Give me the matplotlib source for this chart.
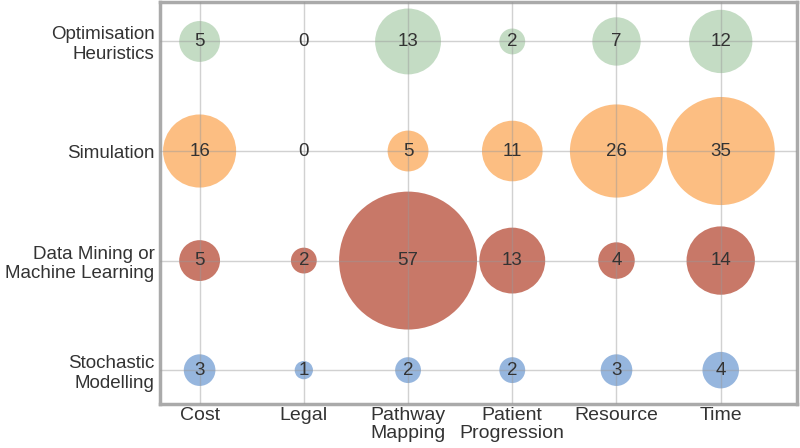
import numpy as np
import matplotlib
matplotlib.use("Agg")
import matplotlib.pyplot as plt

# data
aspects = ["Cost", "Legal", "Pathway\nMapping", "Patient\nProgression", "Resource", "Time"]
methods = ["Stochastic\nModelling", "Data Mining or\nMachine Learning", "Simulation", "Optimisation\nHeuristics"]

stochastic = [3, 1, 2, 2, 3, 4]
data_mining = [5, 2, 57, 13, 4, 14]
simulation = [16, 0, 5, 11, 26, 35]
optimisation = [5, 0, 13, 2, 7, 12]

counts = [stochastic, data_mining, simulation, optimisation]
colours = ["#96b6de", "#c87868", "#fcbe82", "#c4dcc4"]

plt.rcParams['font.family'] = ['Liberation Sans', 'DejaVu Sans']

fig = plt.figure(figsize=(8, 4.48), dpi=100)
ax = fig.add_axes([0.2, 0.098, 0.796, 0.8975])

for row, (vals, col) in enumerate(zip(counts, colours)):
    vals = np.array(vals)
    xs = np.arange(len(aspects))
    ys = np.full(len(aspects), row)
    ax.scatter(xs, ys, s=vals * 173, color=col, edgecolors='none', zorder=1)
    for x, v in zip(xs, vals):
        ax.text(x, row, str(v), ha='center', va='center', fontsize=13.5,
                color='#333333', zorder=4)

ax.set_xlim(-0.38, 5.73)
ax.set_ylim(-0.31, 3.36)
ax.set_xticks(range(len(aspects)))
ax.set_xticklabels(aspects, fontsize=14, color='#333333', linespacing=1.1)
ax.set_yticks(range(len(methods)))
ax.set_yticklabels(methods, fontsize=13.5, color='#333333', linespacing=1.2)
ax.tick_params(axis='x', length=0, pad=2)
ax.tick_params(axis='y', length=0, pad=4)

ax.grid(True, color='#999999', alpha=0.45, linewidth=1, zorder=2)
ax.set_axisbelow(False)
for sp in ax.spines.values():
    sp.set_color('#aaaaaa')
    sp.set_linewidth(2.5)

fig.savefig("out.png", dpi=100)
